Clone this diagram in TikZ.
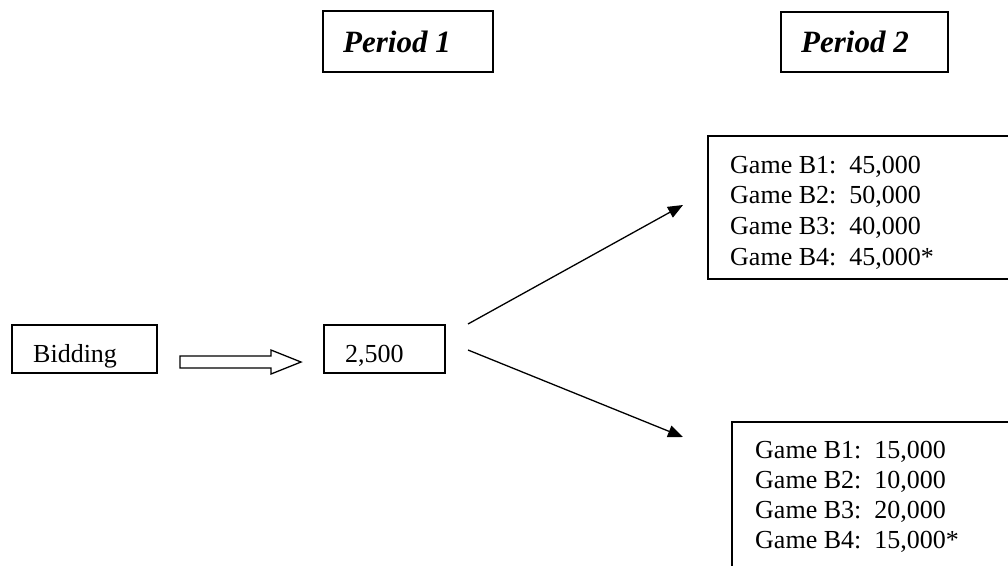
\documentclass[tikz,border=0pt]{standalone}
\usepackage{fontspec}
\setmainfont{Liberation Serif}
\usetikzlibrary{arrows.meta,calc}

\begin{document}
\begin{tikzpicture}[x=1pt,y=-1pt,
  box/.style={draw, line width=1.5pt, inner sep=0pt},
  txt/.style={inner sep=0pt, anchor=base west, font=\fontsize{26}{30}\selectfont},
  hdr/.style={inner sep=0pt, anchor=base west, font=\fontsize{31}{36}\selectfont\bfseries\itshape},
  conn/.style={line width=1.3pt, -{Triangle[length=15pt,width=12pt]}}]
\useasboundingbox (0,0) rectangle (1008,565);
\clip (0,0) rectangle (1008,565);
% period headings
\draw[box] (323,11) rectangle (493,72);
\node[hdr] (per1) at (343,52) {Period 1};
\draw[box] (781,12) rectangle (948,72);
\node[hdr] (per2) at (801,52) {Period 2};
% left part
\draw[box] (12,325) rectangle (157,373);
\node[txt] (bid) at (33,362) {Bidding};
\draw[line width=1.3pt] (180,356) -- (271,356) -- (271,350) -- (301,362) -- (271,374) -- (271,368) -- (180,368) -- cycle;
\draw[box] (324,325) rectangle (445,373);
\node[txt] (cur) at (345,362) {2,500};
% period 2 outcomes
\draw[box] (708,136) rectangle (1030,279);
\foreach \i/\v in {1/{45,000},2/{50,000},3/{40,000},4/{45,000*}}
  \node[txt] (hi\i) at (730,{173+30.7*(\i-1)}) {Game B\i:\ \ \v};
\draw[box] (732,422) rectangle (1030,600);
\foreach \i/\v in {1/{15,000},2/{10,000},3/{20,000},4/{15,000*}}
  \node[txt] (lo\i) at (755,{458+30*(\i-1)}) {Game B\i:\ \ \v};
\coordinate (upA) at (468,324);
\coordinate (upB) at (683,205);
\coordinate (dnA) at (468,350);
\coordinate (dnB) at (683,437);
\draw[conn] (upA) -- (upB);
\draw[conn] (dnA) -- (dnB);
\end{tikzpicture}
\end{document}
